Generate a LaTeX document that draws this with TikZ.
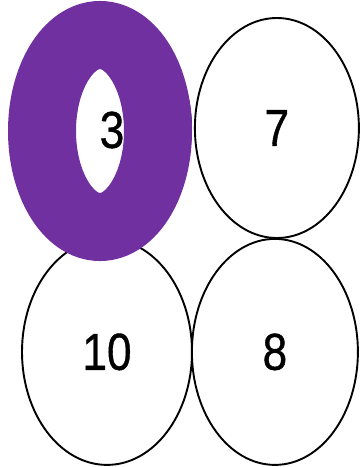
\documentclass[tikz,border=0pt]{standalone}
\usepackage{fontspec}
\setmainfont{Liberation Sans}
\newfontfamily\numfont{Liberation Sans}[FakeBold=0.8]
\usepackage{graphicx}
\usetikzlibrary{positioning,shapes.geometric}
\definecolor{ringpurple}{HTML}{7030A0}
\newcommand{\numtext}[1]{\scalebox{0.85}[1]{#1}}

\begin{document}
\begin{tikzpicture}[x=1pt, y=1pt,
    cell/.style={ellipse, draw, line width=1.9pt, inner sep=0pt, font=\numfont\fontsize{52}{52}\selectfont},
    ring/.style={draw=ringpurple, line width=68pt}]
    \useasboundingbox (0,0) rectangle (360,-467);
    \node[cell, minimum width=168pt, minimum height=220pt] (c3) at (107,-128) {};
    \node[cell, minimum width=164pt, minimum height=220pt, right=2pt of c3] (c7) {\numtext{7}};
    \node[cell, minimum width=170pt, minimum height=226pt, below=-1pt of c3] (c10) {\numtext{10}};
    \node[cell, minimum width=166pt, minimum height=226pt, right=-2pt of c10] (c8) {\numtext{8}};
    % highlighted cell
    \draw[ring] ([shift={(-7,-3)}]c3.center) ellipse [x radius=58pt, y radius=96pt];
    \node[font=\numfont\fontsize{52}{52}\selectfont, inner sep=0pt] (n3) at ([shift={(5,-2)}]c3.center) {\numtext{3}};
\end{tikzpicture}
\end{document}
